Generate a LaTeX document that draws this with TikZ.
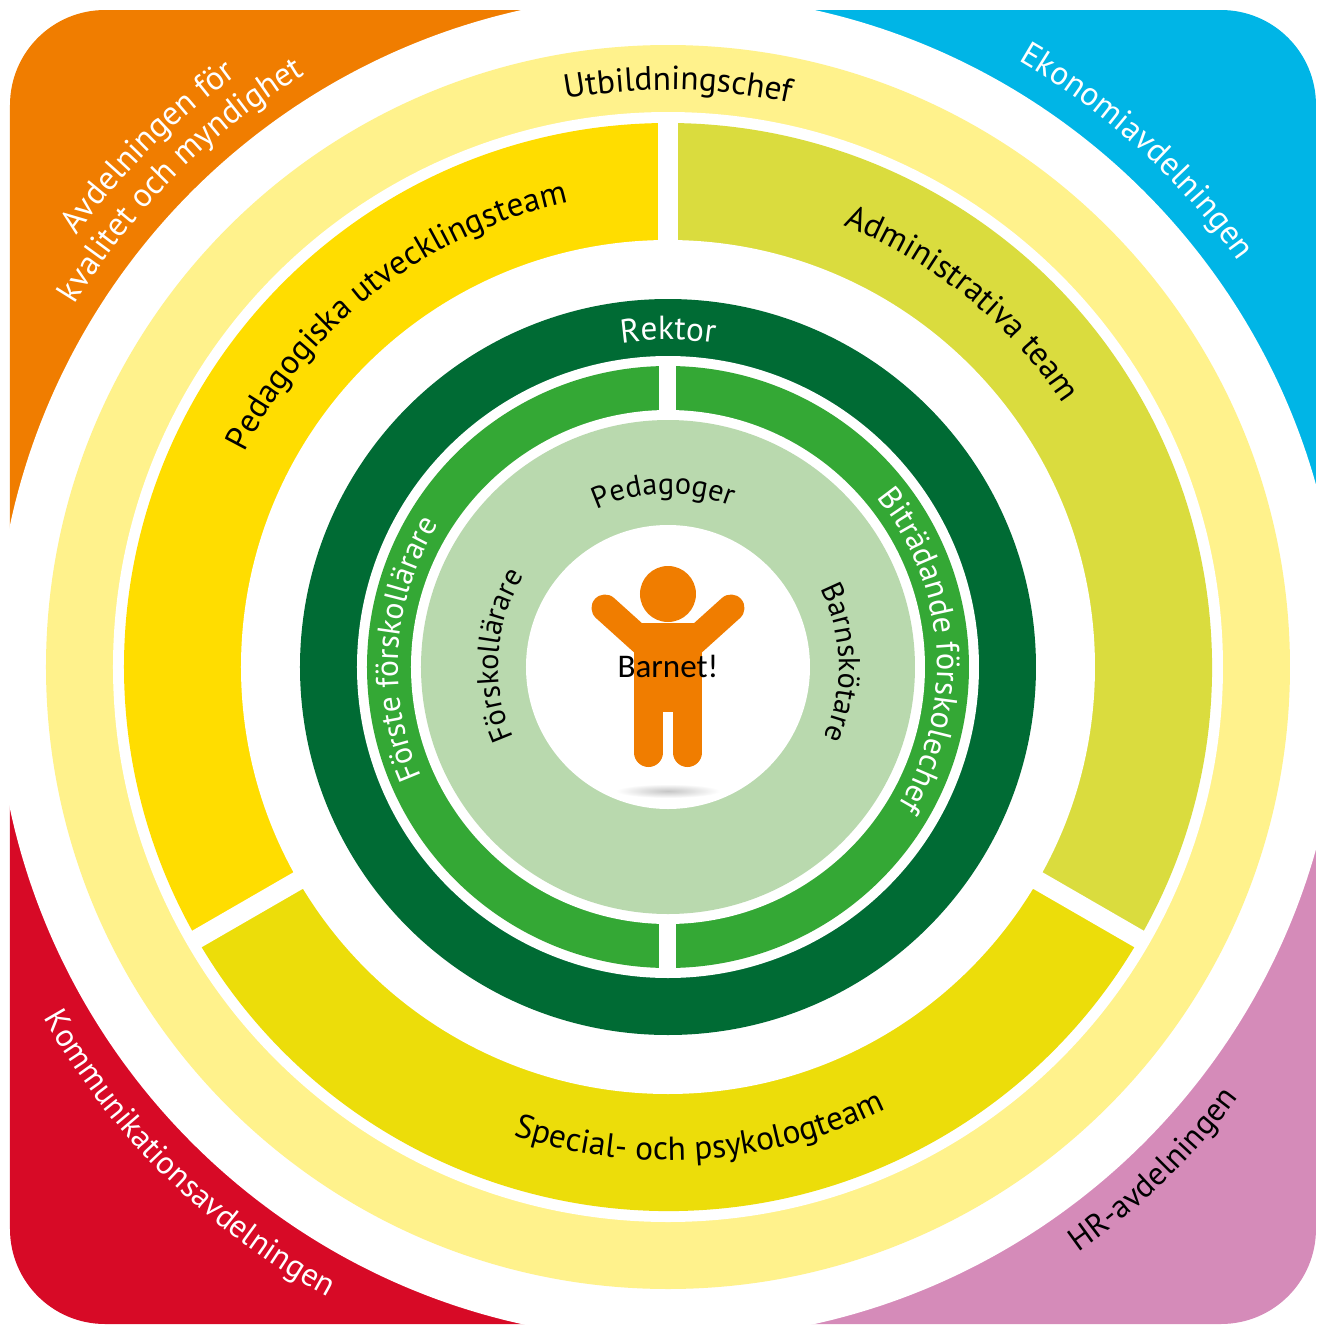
\documentclass[tikz,border=0pt]{standalone}
\usepackage{fontspec}
\setmainfont{PT Sans}
\newfontfamily\barnfont{Carlito}
\usetikzlibrary{decorations.text}
\definecolor{korange}{HTML}{F07D00}
\definecolor{kblue}{HTML}{00B5E6}
\definecolor{kred}{HTML}{D70A26}
\definecolor{kpink}{HTML}{D58BB9}
\definecolor{paleyellow}{HTML}{FFF28C}
\definecolor{kyellow}{HTML}{FFDD00}
\definecolor{klime}{HTML}{DADC3E}
\definecolor{kgold}{HTML}{ECDD0A}
\definecolor{darkgreen}{HTML}{006B34}
\definecolor{midgreen}{HTML}{34A835}
\definecolor{palegreen}{HTML}{B9D9AE}
\newcommand\wlab[1]{\fontsize{#1}{11}\selectfont\color{white}}
\newcommand\blab[1]{\fontsize{#1}{11}\selectfont\color{black}}

\begin{document}
\begin{tikzpicture}[x = .01cm, y = .01cm,
        ring text/.style={decorate, decoration={text along path, text align=center, text={#1}}}]
        \useasboundingbox (-668,-659) rectangle (649,667);
        \begin{scope}
        \clip[rounded corners=0.95cm] (-658,657) rectangle (648,-657);
        \fill[korange] (-700,0) rectangle (0,700);
        \fill[kblue] (0,0) rectangle (700,700);
        \fill[kred] (-700,-700) rectangle (0,0);
        \fill[kpink] (0,-700) rectangle (700,0);
        \end{scope}
        \fill[white] (0,0) circle (673);
        \fill[paleyellow] (0,0) circle (622);
        \fill[white] (0,0) circle (555);
        \fill[kyellow] (0,0) -- (90:544) arc[start angle=90, end angle=210, radius=544] -- cycle;
        \fill[kgold] (0,0) -- (210:544) arc[start angle=210, end angle=330, radius=544] -- cycle;
        \fill[klime] (0,0) -- (-30:544) arc[start angle=-30, end angle=90, radius=544] -- cycle;
        \fill[white] (0,0) circle (427);
        \fill[darkgreen] (0,0) circle (368);
        \fill[white] (0,0) circle (311);
        \fill[midgreen] (0,0) circle (301);
        \fill[white] (0,0) circle (257);
        \fill[palegreen] (0,0) circle (247);
        \fill[white] (0,0) circle (142);
        \draw[white, line width=0.19cm] (90:420) -- (90:550);
        \draw[white, line width=0.19cm] (210:420) -- (210:550);
        \draw[white, line width=0.19cm] (330:420) -- (330:550);
        \draw[white, line width=0.17cm] (90:250) -- (90:306);
        \draw[white, line width=0.17cm] (270:250) -- (270:306);
        \path[ring text={|\blab{9.5}|Utbildningschef}] (169:577) arc[start angle=169, end angle=9, radius=577];
        \path[ring text={|\wlab{9.5}|Rektor}] (170:327) arc[start angle=170, end angle=10, radius=327];
        \path[ring text={|\blab{9.5}|Pedagogiska utvecklingsteam}] (207.6:475) arc[start angle=207.6, end angle=47.6, radius=475];
        \path[ring text={|\blab{9.5}|Administrativa team}] (131:475) arc[start angle=131, end angle=-29, radius=475];
        \path[ring text={|\blab{9.5}|Special- och psykologteam}] (194:493) arc[start angle=194, end angle=354, radius=493];
        \path[ring text={|\wlab{9}|Förste förskollärare}] (256:270) arc[start angle=256, end angle=96, radius=270];
        \path[ring text={|\wlab{9.2}|Biträdande förskolechef}] (84:269) arc[start angle=84, end angle=-76, radius=269];
        \path[ring text={|\blab{8.6}|Pedagoger}] (171.5:173) arc[start angle=171.5, end angle=11.5, radius=173];
        \path[ring text={|\blab{8.6}|Förskollärare}] (256:170) arc[start angle=256, end angle=96, radius=170];
        \path[ring text={|\blab{8.6}|Barnskötare}] (81.5:171) arc[start angle=81.5, end angle=-78.5, radius=171];
        \path[ring text={|\wlab{9.5}|Ekonomiavdelningen}] (127.7:700) arc[start angle=127.7, end angle=-32.3, radius=700];
        \path[ring text={|\wlab{9.2}|Kommunikationsavdelningen}] (145.5:716) arc[start angle=145.5, end angle=305.5, radius=716];
        \path[ring text={|\blab{9.2}|HR-avdelningen}] (234:715) arc[start angle=234, end angle=394, radius=715];
        \path[ring text={|\wlab{9.5}|Avdelningen för}] (215:732) arc[start angle=215, end angle=55, radius=732];
        \path[ring text={|\wlab{9.5}|kvalitet och myndighet}] (215:695) arc[start angle=215, end angle=55, radius=695];
        \shade[inner color=gray!45, outer color=white] (0,-124) ellipse [x radius=52, y radius=7];
        \fill[korange] (0,73) circle (28);
        \draw[korange, line width=0.27cm, line cap=round] (-63,59) -- (-22,22);
        \draw[korange, line width=0.27cm, line cap=round] (63,59) -- (22,22);
        \fill[korange] (-34,44) rectangle (34,-45);
        \draw[korange, line width=0.29cm, line cap=round] (-19.5,-40) -- (-19.5,-85.5);
        \draw[korange, line width=0.29cm, line cap=round] (19.5,-40) -- (19.5,-85.5);
        \node[font=\barnfont\fontsize{9.4}{11}\selectfont] (barnet) at (0,1) {Barnet!};
    \end{tikzpicture}
\end{document}
